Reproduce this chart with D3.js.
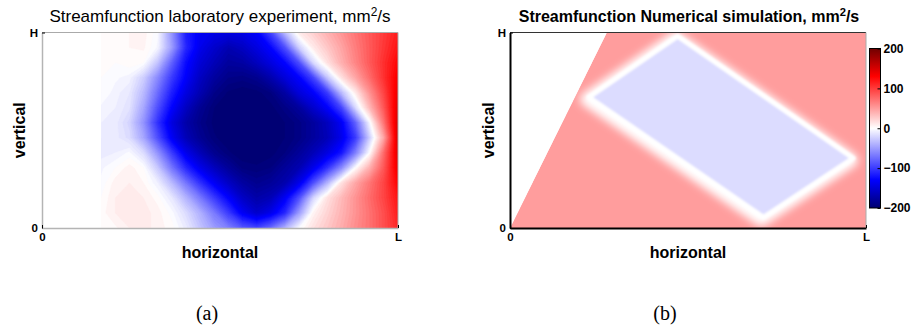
<!DOCTYPE html>
<html><head><meta charset="utf-8">
<script src="https://cdn.jsdelivr.net/npm/d3@7"></script>
<style>body{margin:0;background:#fff}svg{display:block}</style>
</head><body>
<svg id="c" width="912" height="327"></svg>
<script>
// ---------------- data ----------------
const yTickValues = [0, 1];
const yTickLabels = ["0", "H"];
const xTickValues = [0, 1];
const xTickLabels = ["0", "L"];
const colorbarTicks = [-200, -100, 0, 100, 200];
const colorStops = [-200, -130, 0, 130, 200];
const colorStopColors = ["#000070", "#0000ff", "#ffffff", "#ff0000", "#700000"];

// laboratory experiment: grid of streamfunction values (mm^2/s)
// columns span x = labStartX .. 1 (fraction of L), rows from top (H) to bottom (0)
const labStartX = 0.166;
const labValues = [
  [0,0,4,6,-3,-55,-115,-135,-142,-145,-142,-132,-95,-35,10,24,39,54,70,85,100,115],
  [0,0,4,5,-5,-50,-110,-140,-155,-168,-160,-145,-128,-90,-25,10,28,46,66,84,102,120],
  [0,0,3,0,-30,-80,-125,-150,-165,-178,-175,-162,-145,-128,-90,-20,15,40,62,84,106,128],
  [0,-3,-6,-25,-60,-100,-132,-160,-177,-188,-190,-185,-170,-148,-130,-95,-30,15,45,75,105,135],
  [0,-6,-12,-35,-75,-115,-145,-168,-188,-197,-200,-198,-192,-175,-148,-132,-100,-35,10,55,95,140],
  [-5,-8,-15,-45,-90,-130,-160,-183,-196,-200,-200,-200,-198,-190,-178,-155,-132,-95,-20,35,85,145],
  [-8,-10,-22,-55,-105,-145,-172,-188,-198,-200,-200,-200,-200,-196,-190,-178,-162,-135,-80,-5,70,150],
  [-8,-10,-18,-45,-90,-135,-165,-183,-195,-200,-200,-200,-200,-196,-190,-178,-165,-140,-100,-25,45,150],
  [-10,-8,-3,-18,-55,-100,-140,-165,-185,-195,-200,-200,-198,-192,-180,-165,-145,-120,-65,0,75,145],
  [-5,0,6,0,-28,-70,-110,-140,-162,-180,-193,-195,-192,-180,-168,-140,-105,-60,0,40,85,140],
  [-3,6,8,4,-8,-35,-70,-105,-135,-158,-176,-185,-180,-170,-140,-90,-38,15,45,70,95,130],
  [0,8,10,8,2,-12,-38,-68,-100,-130,-158,-172,-165,-135,-90,-22,15,35,55,75,95,120],
  [2,8,10,10,6,-2,-18,-40,-68,-100,-135,-155,-140,-110,-50,5,22,38,55,72,90,115],
  [0,3,8,10,6,2,-10,-30,-50,-65,-85,-95,-75,-40,-3,15,28,42,58,72,90,110]
];

// numerical simulation: region with data, inner cell polygon and their values
const simDomain = [[0, 0], [0.272, 1], [1, 1], [1, 0]];
const simCell = [[0.471, 0.981], [0.964, 0.357], [0.712, 0.055], [0.222, 0.669]];
const simOuterValue = 50;
const simInnerValue = -18;

// ---------------- drawing ----------------
const svg = d3.select("#c");
const FONT = "'Liberation Sans', Arial, sans-serif";
const color = d3.scaleLinear().domain(colorStops).range(colorStopColors).clamp(true);

const defs = svg.append("defs");
defs.append("filter").attr("id", "blurBig").attr("x", "-20%").attr("y", "-20%").attr("width", "140%").attr("height", "140%")
  .append("feGaussianBlur").attr("stdDeviation", 4.5);
defs.append("filter").attr("id", "blurSmall").attr("x", "-20%").attr("y", "-20%").attr("width", "140%").attr("height", "140%")
  .append("feGaussianBlur").attr("stdDeviation", 1.3);

function panel(left, right, top, bottom) {
  return {
    x: d3.scaleLinear().domain([0, 1]).range([left, right]),
    y: d3.scaleLinear().domain([0, 1]).range([bottom, top])
  };
}

function axes(g, p, frameColor, leftColor, bottomColor, axisW) {
  const [x0, x1] = p.x.range(), [y0, y1] = p.y.range();
  g.append("line").attr("x1", x0).attr("x2", x1).attr("y1", y1).attr("y2", y1).attr("stroke", frameColor).attr("stroke-width", 1);
  g.append("line").attr("x1", x1).attr("x2", x1).attr("y1", y1).attr("y2", y0).attr("stroke", "#aaa").attr("stroke-width", 1);
  const ya = g.append("g").attr("transform", `translate(${x0},0)`)
    .call(d3.axisLeft(p.y).tickValues(yTickValues).tickFormat((d, i) => yTickLabels[i]).tickSizeInner(-3).tickSizeOuter(0).tickPadding(4));
  const xa = g.append("g").attr("transform", `translate(0,${y0})`)
    .call(d3.axisBottom(p.x).tickValues(xTickValues).tickFormat((d, i) => xTickLabels[i]).tickSizeInner(-3).tickSizeOuter(0).tickPadding(5));
  ya.select(".domain").attr("stroke", leftColor).attr("stroke-width", axisW);
  xa.select(".domain").attr("stroke", bottomColor).attr("stroke-width", axisW);
  [ya, xa].forEach(a => {
    a.selectAll(".tick line").attr("stroke", "#000");
    a.selectAll("text").attr("font-family", FONT).attr("font-weight", "bold").attr("font-size", "11.5px").attr("fill", "#000");
  });
}

function title(g, cx, txt, weight, size) {
  const t = g.append("text").attr("x", cx).attr("y", 22).attr("text-anchor", "middle")
    .attr("font-family", FONT).attr("font-weight", weight).attr("font-size", size + "px").attr("fill", "#000");
  t.append("tspan").text(txt + ", mm");
  t.append("tspan").attr("dy", -6).attr("font-size", (size * 0.7) + "px").text("2");
  t.append("tspan").attr("dy", 6).text("/s");
}

function axisLabels(g, p, vx) {
  const [x0, x1] = p.x.range(), [y0, y1] = p.y.range();
  g.append("text").attr("x", (x0 + x1) / 2).attr("y", 258).attr("text-anchor", "middle")
    .attr("font-family", FONT).attr("font-weight", "bold").attr("font-size", "16px").text("horizontal");
  g.append("text").attr("transform", `translate(${vx},${(y0 + y1) / 2}) rotate(-90)`).attr("text-anchor", "middle")
    .attr("font-family", FONT).attr("font-weight", "bold").attr("font-size", "16px").text("vertical");
}

// ---- panel (a) ----
const pa = panel(42, 398, 32.5, 228);
const ga = svg.append("g");
const nCols = labValues[0].length, nRows = labValues.length;
const flat = labValues.flat();
const thresholds = d3.range(-212, 212, 4);
const contours = d3.contours().size([nCols, nRows]).thresholds(thresholds)(flat);
const gridX = gx => pa.x(labStartX + (gx - 0.5) / (nCols - 1) * (1 - labStartX));
const gridY = gy => pa.y(1 - (gy - 0.5) / (nRows - 1));
const proj = d3.geoTransform({ point: function (x, y) { this.stream.point(gridX(x), gridY(y)); } });
defs.append("clipPath").attr("id", "clipA").append("rect")
  .attr("x", pa.x(labStartX)).attr("y", pa.y(1)).attr("width", pa.x(1) - pa.x(labStartX)).attr("height", pa.y(0) - pa.y(1));
ga.append("g").attr("clip-path", "url(#clipA)").selectAll("path").data(contours).join("path")
  .attr("d", d3.geoPath(proj)).attr("fill", d => color(d.value + 2)).attr("stroke", d => color(d.value + 2)).attr("stroke-width", 0.4);
axes(ga, pa, "#aaa", "#b4b4b4", "#b4b4b4", 1.5);
title(ga, 220, "Streamfunction laboratory experiment", "normal", 17);
axisLabels(ga, pa, 25);

// ---- panel (b) ----
const pb = panel(510, 866, 32.5, 228);
const gb = svg.append("g");
const line = d3.line().x(d => pb.x(d[0])).y(d => pb.y(d[1]));
defs.append("clipPath").attr("id", "clipB").append("path").attr("d", line(simDomain) + "Z");
const gbc = gb.append("g").attr("clip-path", "url(#clipB)");
gbc.append("path").attr("d", line(simDomain) + "Z").attr("fill", color(simOuterValue));
gbc.append("path").attr("d", line(simCell) + "Z").attr("fill", "#fff").attr("stroke", "#fff")
  .attr("stroke-width", 14).attr("stroke-linejoin", "round").attr("filter", "url(#blurBig)")
  .attr("transform", "translate(-2,2)");
gbc.append("path").attr("d", line(simCell) + "Z").attr("fill", color(simInnerValue));
gbc.append("path").attr("d", line(simCell) + "Z").attr("fill", "none").attr("stroke", "#fff")
  .attr("stroke-width", 5).attr("stroke-linejoin", "round").attr("filter", "url(#blurSmall)");
axes(gb, pb, "#333", "#000", "#000", 2);
title(gb, 689, "Streamfunction Numerical simulation", "bold", 16);
axisLabels(gb, pb, 494);

// ---- colorbar ----
const cbY = d3.scaleLinear().domain([-200, 200]).range([208, 48.5]);
const grad = defs.append("linearGradient").attr("id", "cbGrad").attr("x1", 0).attr("x2", 0).attr("y1", 1).attr("y2", 0);
colorStops.forEach((v, i) => grad.append("stop").attr("offset", (v + 200) / 400).attr("stop-color", colorStopColors[i]));
const cb = svg.append("g");
cb.append("rect").attr("x", 869.5).attr("y", cbY(200)).attr("width", 11).attr("height", cbY(-200) - cbY(200))
  .attr("fill", "url(#cbGrad)").attr("stroke", "#000").attr("stroke-width", 1);
const cba = cb.append("g").attr("transform", "translate(880.5,0)")
  .call(d3.axisRight(cbY).tickValues(colorbarTicks).tickFormat(d => d < 0 ? "\u2212" + Math.abs(d) : d).tickSizeInner(-3).tickSizeOuter(0).tickPadding(3));
cba.select(".domain").remove();
cba.selectAll(".tick line").attr("stroke", "#000");
cba.selectAll("text").attr("font-family", FONT).attr("font-weight", "bold").attr("font-size", "12px").attr("fill", "#000");

// ---- captions ----
svg.append("text").attr("x", 207).attr("y", 320).attr("text-anchor", "middle").attr("font-family", "'Liberation Serif', serif").attr("font-size", "20px").text("(a)");
svg.append("text").attr("x", 665).attr("y", 320).attr("text-anchor", "middle").attr("font-family", "'Liberation Serif', serif").attr("font-size", "20px").text("(b)");
</script>
</body></html>
